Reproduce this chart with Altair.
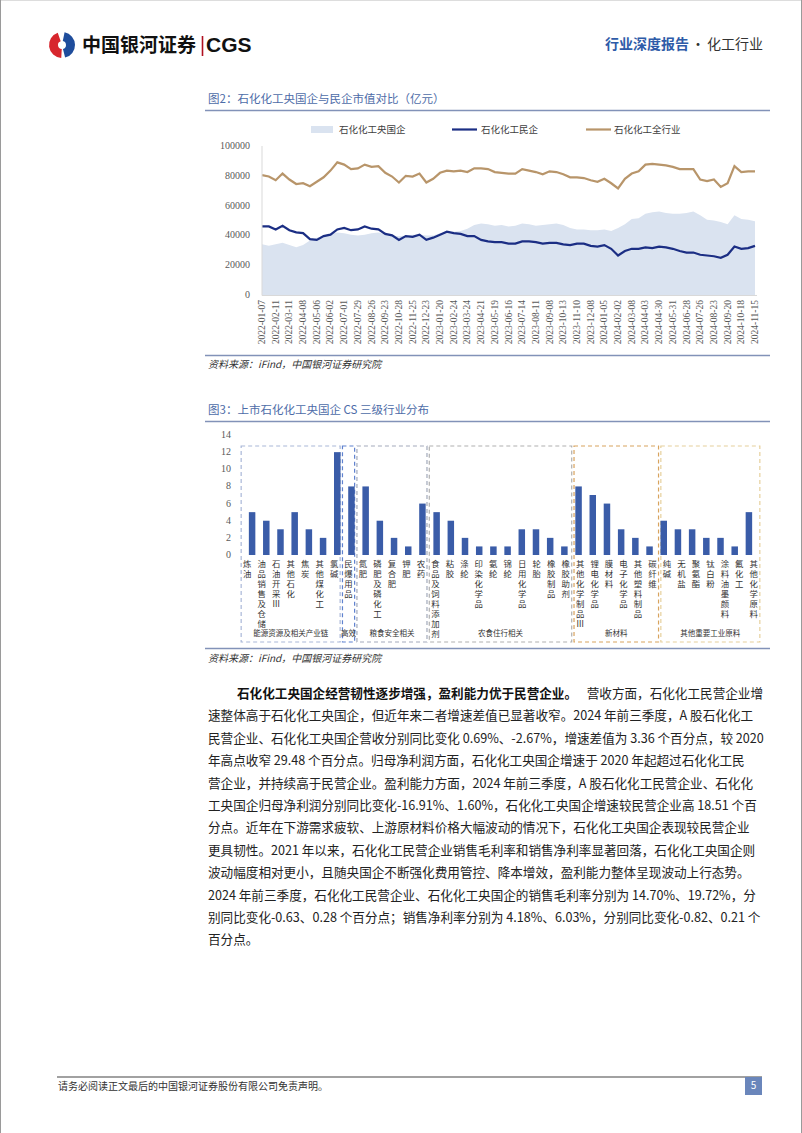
import altair as alt
import pandas as pd

CJK = "Noto Sans CJK SC"
SERIF = "Liberation Serif"

# ---------------- Chart 1 data (biweekly, index 0..72) ----------------
date_labels = ["2022-01-07", "2022-02-11", "2022-03-11", "2022-04-08", "2022-05-06", "2022-06-02",
               "2022-07-01", "2022-07-29", "2022-08-26", "2022-09-23", "2022-10-28", "2022-11-25",
               "2022-12-23", "2023-01-20", "2023-02-24", "2023-03-24", "2023-04-21", "2023-05-19",
               "2023-06-16", "2023-07-14", "2023-08-11", "2023-09-08", "2023-10-13", "2023-11-10",
               "2023-12-08", "2024-01-05", "2024-02-02", "2024-03-08", "2024-04-03", "2024-04-30",
               "2024-05-31", "2024-06-28", "2024-07-26", "2024-08-23", "2024-09-20", "2024-10-18",
               "2024-11-15"]

soe_values = [34000, 33000, 34000, 35000, 33500, 32000, 33500, 36500, 38500, 40000,
              41000, 42000, 41500, 40500, 40000, 40500, 41500, 42000, 41000, 40000,
              39500, 40000, 40500, 40500, 40000, 40000, 41500, 42000, 42500, 43000,
              44500, 47000, 48000, 47500, 46500, 47000, 46000, 46500, 48000, 47500,
              46500, 47000, 47500, 48000, 47000, 45000, 44000, 44000, 43500, 43500,
              44000, 43000, 45000, 47500, 51000, 51500, 54500, 55500, 56000, 55000,
              54500, 54500, 55000, 56000, 53500, 50500, 50000, 49000, 47500, 53500,
              51000, 50500, 49500]

private_values = [46000, 46000, 44000, 46500, 43500, 42000, 41500, 37500, 37000, 39500,
                  40500, 44000, 45000, 43500, 44000, 46000, 44500, 44000, 41000, 40000,
                  37000, 39500, 39000, 40500, 37000, 38500, 40500, 42500, 41500, 41000,
                  39500, 39500, 37000, 36000, 35500, 35500, 34500, 34500, 36000, 36000,
                  35500, 34500, 35000, 35000, 34000, 33500, 34500, 34500, 33000, 32500,
                  33500, 31000, 26500, 29500, 31000, 31000, 32000, 31500, 32500, 32000,
                  31000, 29500, 28500, 28500, 27000, 26500, 26000, 25000, 27000, 32500,
                  31000, 31500, 33000]

total_values = [80500, 79500, 77000, 81500, 77500, 74500, 75000, 73000, 76000, 79000,
                83500, 89000, 87500, 84500, 85000, 87500, 86000, 86500, 82000, 79500,
                75500, 80000, 79500, 81500, 75500, 78000, 82000, 83500, 83000, 83500,
                82500, 85000, 85000, 84500, 82500, 82000, 81500, 81500, 84500, 83500,
                82500, 81000, 83000, 82500, 81000, 79000, 79000, 78500, 77000, 76000,
                78000, 75000, 71500, 78000, 81500, 83000, 87500, 88000, 87500, 87000,
                86000, 84500, 84500, 84500, 77500, 76500, 77500, 72500, 75000, 86500,
                82500, 83000, 83000]

y1_ticks = [0, 20000, 40000, 60000, 80000, 100000]
series_names = ["石化化工央国企", "石化化工民企", "石化化工全行业"]

# ---------------- Chart 2 data ----------------
categories = ["炼油", "油品销售及仓储", "石油开采Ⅲ", "其他石化", "焦炭", "其他煤化工", "氯碱",
              "民爆用品",
              "氮肥", "磷肥及磷化工", "复合肥", "钾肥", "农药",
              "食品及饲料添加剂", "粘胶", "涤纶", "印染化学品", "氨纶", "锦纶", "日用化学品", "轮胎", "橡胶制品", "橡胶助剂",
              "其他化学制品Ⅲ", "锂电化学品", "膜材料", "电子化学品", "其他塑料制品", "碳纤维",
              "纯碱", "无机盐", "聚氨酯", "钛白粉", "涂料油墨颜料", "氟化工", "其他化学原料"]
counts = [5, 4, 3, 5, 3, 2, 12,
          8,
          8, 4, 2, 1, 6,
          5, 4, 2, 1, 1, 1, 3, 3, 2, 1,
          8, 7, 6, 3, 2, 1,
          4, 3, 3, 2, 2, 1, 5]
group_names = ["能源资源及相关产业链", "高效", "粮食安全相关", "农食住行相关", "新材料", "其他重要工业原料"]
group_sizes = [7, 1, 5, 10, 6, 7]
y2_ticks = [0, 2, 4, 6, 8, 10, 12, 14]

# ---------------- styles ----------------
AREA_C = "#dae3f0"
NAVY = "#1b2e84"
TAN = "#b8956a"
BAR_C = "#3a5ca8"
TITLE_C = "#4d6ca8"
RULE_C = "#8292b8"
group_colors = ["#a9b7d8", "#5f82cf", "#a3aabb", "#b0b0b0", "#d8a35e", "#e6d09c"]

# scales in page pixels
x1s = alt.Scale(domain=[0, 72], range=[262, 755])
y1s = alt.Scale(domain=[0, 100000], range=[295, 146])
x2s = alt.Scale(domain=[-0.5, 35.5], range=[240, 761])
y2s = alt.Scale(domain=[0, 14], range=[555, 435])


def one():
    return alt.Data(values=[{"t": ""}])


def txt(s, x, y, size, color="#333333", font=CJK, weight="normal", align="left",
        baseline="middle", italic=False):
    kw = dict(fontSize=size, color=color, font=font, fontWeight=weight, align=align, baseline=baseline)
    if italic:
        kw["fontStyle"] = "italic"
    return alt.Chart(alt.Data(values=[{"t": s}])).mark_text(**kw).encode(
        x=alt.value(x), y=alt.value(y), text="t:N")


def hrule(xa, xb, y, color, w=1.0):
    return alt.Chart(one()).mark_rule(color=color, strokeWidth=w).encode(
        x=alt.value(xa), x2=alt.value(xb), y=alt.value(y))


def vrule(x, ya, yb, color, w=1.0):
    return alt.Chart(one()).mark_rule(color=color, strokeWidth=w).encode(
        x=alt.value(x), y=alt.value(ya), y2=alt.value(yb))


layers = []

# ---------------- page frame & header ----------------
layers += [vrule(0.5, 0, 1133, "#9a9a9a"), vrule(801.5, 0, 1133, "#9a9a9a")]
layers.append(alt.Chart(one()).mark_arc(theta=3.2, theta2=5.95, radius=13, innerRadius=4, color="#d7262d")
              .encode(x=alt.value(62), y=alt.value(45)))
layers.append(alt.Chart(one()).mark_arc(theta=0.2, theta2=2.9, radius=13, innerRadius=4, color="#1f4d9c")
              .encode(x=alt.value(62), y=alt.value(45)))
layers.append(txt("中国银河证券", 82, 46, 19, color="#111111", weight="bold"))
layers.append(vrule(202.5, 36, 56, "#b01020", 1.6))
layers.append(txt("CGS", 206, 46, 21, color="#111111", font="Liberation Sans", weight="bold"))
layers.append(txt("行业深度报告", 689, 45, 14, color="#2e5ba8", weight="bold", align="right"))
layers.append(txt("·", 698, 45, 14, color="#333333", align="center"))
layers.append(txt("化工行业", 763, 45, 14, color="#333333", align="right"))

# ---------------- Chart 1 ----------------
layers.append(txt("图2：石化化工央国企与民企市值对比（亿元）", 208, 100, 11.5, color=TITLE_C))
layers.append(hrule(205, 770, 110.5, RULE_C, 1.3))

# legend
layers.append(alt.Chart(one()).mark_rect(color=AREA_C).encode(
    x=alt.value(311), x2=alt.value(333), y=alt.value(126), y2=alt.value(133)))
layers.append(txt(series_names[0], 339, 129.5, 9.5, color="#404040"))
layers.append(hrule(452, 477, 129.5, NAVY, 2.2))
layers.append(txt(series_names[1], 481, 129.5, 9.5, color="#404040"))
layers.append(hrule(586, 611, 129.5, TAN, 2.2))
layers.append(txt(series_names[2], 614, 129.5, 9.5, color="#404040"))

df1 = pd.DataFrame({"i": list(range(len(soe_values))), "soe": soe_values,
                    "pri": private_values, "tot": total_values})
layers.append(alt.Chart(df1).mark_area(color=AREA_C).encode(
    x=alt.X("i:Q", scale=x1s, axis=None), y=alt.Y("soe:Q", scale=y1s, axis=None)))
layers.append(alt.Chart(df1).mark_line(color=NAVY, strokeWidth=2.2).encode(
    x=alt.X("i:Q", scale=x1s, axis=None), y=alt.Y("pri:Q", scale=y1s, axis=None)))
layers.append(alt.Chart(df1).mark_line(color=TAN, strokeWidth=2.2).encode(
    x=alt.X("i:Q", scale=x1s, axis=None), y=alt.Y("tot:Q", scale=y1s, axis=None)))

# axis lines
layers.append(vrule(262, 146, 295.5, "#d9d9d9"))
layers.append(hrule(262, 757, 295.5, "#d9d9d9"))

df_y1 = pd.DataFrame({"v": y1_ticks})
layers.append(alt.Chart(df_y1).mark_text(align="right", baseline="middle", fontSize=10,
                                         font=SERIF, color="#595959").encode(
    x=alt.value(250), y=alt.Y("v:Q", scale=y1s, axis=None), text=alt.Text("v:Q", format="d")))

df_x1 = pd.DataFrame({"i": [2 * k for k in range(len(date_labels))], "d": date_labels})
layers.append(alt.Chart(df_x1).mark_text(angle=270, align="right", baseline="middle", fontSize=9.5,
                                         font=SERIF, color="#595959").encode(
    x=alt.X("i:Q", scale=x1s, axis=None), y=alt.value(300), text="d:N"))

layers.append(hrule(205, 770, 355.5, RULE_C, 1.3))
layers.append(txt("资料来源：iFind，中国银河证券研究院", 208, 365, 10, color="#333333", italic=True))

# ---------------- Chart 2 ----------------
layers.append(txt("图3：上市石化化工央国企 CS 三级行业分布", 208, 411, 11.5, color=TITLE_C))
layers.append(hrule(205, 770, 421.5, RULE_C, 1.3))

grp_of_cat = []
g_start, g_end = [], []
pos = 0
for g, n in zip(group_names, group_sizes):
    grp_of_cat += [g] * n
    g_start.append(pos)
    g_end.append(pos + n - 1)
    pos += n

df2 = pd.DataFrame({"k": list(range(len(categories))), "cat": categories, "n": counts, "g": grp_of_cat})
df2["vlab"] = df2["cat"].apply(lambda s: "\n".join(list(s)))

df_g = pd.DataFrame({"g": group_names, "s": g_start, "e": g_end})
df_g["x0"] = df_g["s"] - 0.42
df_g["x1"] = df_g["e"] + 0.42
df_g["xm"] = (df_g["s"] + df_g["e"]) / 2

layers.append(alt.Chart(df_g).mark_rect(fillOpacity=0, strokeDash=[4, 3], strokeWidth=1.2).encode(
    x=alt.X("x0:Q", scale=x2s, axis=None), x2="x1:Q",
    y=alt.value(446), y2=alt.value(642),
    stroke=alt.Stroke("g:N", scale=alt.Scale(domain=group_names, range=group_colors), legend=None)))

layers.append(alt.Chart(df2).mark_bar(orient="vertical", size=6.5, color=BAR_C).encode(
    x=alt.X("k:Q", scale=x2s, axis=None), y=alt.Y("n:Q", scale=y2s, axis=None)))

df_y2 = pd.DataFrame({"v": y2_ticks})
layers.append(alt.Chart(df_y2).mark_text(align="right", baseline="middle", fontSize=10,
                                         font=SERIF, color="#595959").encode(
    x=alt.value(231), y=alt.Y("v:Q", scale=y2s, axis=None), text=alt.Text("v:Q", format="d")))

layers.append(alt.Chart(df2).mark_text(lineBreak="\n", baseline="top", align="center", fontSize=8.4,
                                       lineHeight=10, font=CJK, color="#333333").encode(
    x=alt.X("k:Q", scale=x2s, axis=None), y=alt.value(560), text="vlab:N"))

layers.append(alt.Chart(df_g).mark_text(baseline="middle", align="center", fontSize=7.5,
                                        font=CJK, color="#333333").encode(
    x=alt.X("xm:Q", scale=x2s, axis=None), y=alt.value(634), text="g:N"))

layers.append(hrule(205, 770, 648.5, RULE_C, 1.3))
layers.append(txt("资料来源：iFind，中国银河证券研究院", 208, 659, 10, color="#333333", italic=True))

# ---------------- Body paragraph ----------------
body_bold = "石化化工央国企经营韧性逐步增强，盈利能力优于民营企业。"
body_lines = [
    "营收方面，石化化工民营企业增",
    "速整体高于石化化工央国企，但近年来二者增速差值已显著收窄。2024 年前三季度，A 股石化化工",
    "民营企业、石化化工央国企营收分别同比变化 0.69%、-2.67%，增速差值为 3.36 个百分点，较 2020",
    "年高点收窄 29.48 个百分点。归母净利润方面，石化化工央国企增速于 2020 年起超过石化化工民",
    "营企业，并持续高于民营企业。盈利能力方面，2024 年前三季度，A 股石化化工民营企业、石化化",
    "工央国企归母净利润分别同比变化-16.91%、1.60%，石化化工央国企增速较民营企业高 18.51 个百",
    "分点。近年在下游需求疲软、上游原材料价格大幅波动的情况下，石化化工央国企表现较民营企业",
    "更具韧性。2021 年以来，石化化工民营企业销售毛利率和销售净利率显著回落，石化化工央国企则",
    "波动幅度相对更小，且随央国企不断强化费用管控、降本增效，盈利能力整体呈现波动上行态势。",
    "2024 年前三季度，石化化工民营企业、石化化工央国企的销售毛利率分别为 14.70%、19.72%，分",
    "别同比变化-0.63、0.28 个百分点；销售净利率分别为 4.18%、6.03%，分别同比变化-0.82、0.21 个",
    "百分点。",
]
y0, dy = 694, 22.4
layers.append(txt(body_bold, 237, y0, 12.6, color="#111111", weight="bold"))
layers.append(txt(body_lines[0], 763, y0, 12.6, color="#222222", align="right"))
for n, line in enumerate(body_lines[1:], start=1):
    layers.append(txt(line, 208, y0 + n * dy, 12.6, color="#222222"))

# ---------------- Footer ----------------
layers.append(hrule(57, 762, 1077, "#444444", 1.2))
layers.append(txt("请务必阅读正文最后的中国银河证券股份有限公司免责声明。", 58, 1087, 10, color="#333333"))
layers.append(alt.Chart(one()).mark_rect(color="#6a86bb").encode(
    x=alt.value(745), x2=alt.value(762), y=alt.value(1077), y2=alt.value(1095)))
layers.append(txt("5", 753.5, 1086, 10, color="#ffffff", align="center"))

chart = alt.layer(*layers).properties(
    width=802, height=1133, padding=0,
    autosize=alt.AutoSizeParams(type="none"),
).resolve_scale(
    x="independent", y="independent", stroke="independent"
).configure_view(stroke=None).configure(background="white")

chart.save("out.html", embed_options={"renderer": "svg", "actions": False})
